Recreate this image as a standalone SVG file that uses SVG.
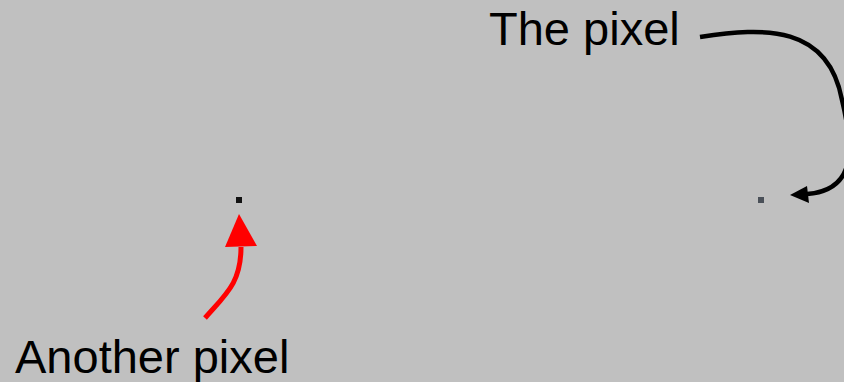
<svg xmlns="http://www.w3.org/2000/svg" width="844" height="382" viewBox="0 0 844 382">
<style>
text{font-family:"Liberation Sans",Arial,sans-serif;font-size:47px;fill:#000}
.c{fill:none;stroke-linecap:butt}
</style>
<rect width="844" height="382" fill="#c0c0c0"/>
<g id="pixel1"><rect x="236" y="197" width="6" height="6" fill="#111"/></g>
<g id="pixel2"><rect x="758" y="197" width="6" height="6" fill="#4a5058"/></g>
<g id="label1"><text x="489" y="45">The pixel</text></g>
<g id="label2"><text x="15" y="373">Another pixel</text></g>
<g id="connectors">
<path class="c" d="M 700 37 C 765 27, 828 25, 842 100 C 854 150, 856 190, 807 194" stroke="#000" stroke-width="4.5"/>
<path d="M 790 195 L 807 186 L 809 203 Z" fill="#000"/>
<path class="c" d="M 205 318 C 226 294, 241 283, 241 247" stroke="#f00" stroke-width="5"/>
<path d="M 239 214 L 225 247 L 257 246 Z" fill="#f00"/>
</g>
</svg>
